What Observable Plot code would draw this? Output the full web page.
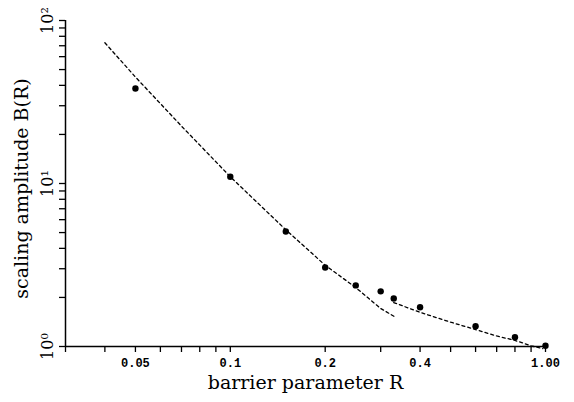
<!DOCTYPE html>
<html>
<head>
<meta charset="utf-8">
<script src="https://cdn.jsdelivr.net/npm/d3@7"></script>
<script src="https://cdn.jsdelivr.net/npm/@observablehq/plot@0.6"></script>
<style>
  html, body { margin: 0; padding: 0; background: #fff; }
  #chart { width: 574px; height: 402px; }
</style>
</head>
<body>
<div id="chart"></div>
<script>
// measured points
const pointR = [0.05, 0.1, 0.15, 0.2, 0.25, 0.3, 0.33, 0.4, 0.6, 0.8, 1.0];
const pointB = [38.3, 11.0, 5.08, 3.05, 2.37, 2.18, 1.97, 1.74, 1.33, 1.14, 1.01];

// small-R asymptotic (dashed) curve
const curve1R = [0.04, 0.05, 0.07, 0.1, 0.15, 0.2, 0.25, 0.3, 0.335];
const curve1B = [73, 45, 22.5, 11.0, 5.2, 3.15, 2.3, 1.71, 1.51];

// large-R asymptotic (dashed) curve
const curve2R = [0.33, 0.4, 0.5, 0.6, 0.7, 0.8, 0.9, 0.98];
const curve2B = [1.86, 1.62, 1.41, 1.27, 1.16, 1.09, 1.01, 0.97];

const xLabelTicks = [0.05, 0.1, 0.2, 0.4, 1.0];
const xLabelText = ["0.05", "0.1", "0.2", "0.4", "1.00"];
const xMinorTicks = [0.03,0.04,0.05,0.06,0.07,0.08,0.09,0.1,0.2,0.3,0.4,0.5,0.6,0.7,0.8,0.9,1.0];
const yLabelTicks = [1, 10, 100];
const yLabelText = ["10\u2070", "10\u00b9", "10\u00b2"];
const yMinorTicks = [1,2,3,4,5,6,7,8,9,10,20,30,40,50,60,70,80,90,100];

const points = pointR.map((r, i) => ({r, b: pointB[i]}));
const c1 = curve1R.map((r, i) => ({r, b: curve1B[i]}));
const c2 = curve2R.map((r, i) => ({r, b: curve2B[i]}));

const serif = "'DejaVu Serif', 'Liberation Serif', serif";
const mono = "'Liberation Mono', 'DejaVu Sans Mono', monospace";

const chart = Plot.plot({
  width: 574,
  height: 402,
  marginLeft: 65,
  marginRight: 29,
  marginTop: 20,
  marginBottom: 56,
  style: {background: "#fff", color: "#000", overflow: "visible"},
  x: {type: "log", domain: [0.03, 1.0]},
  y: {type: "log", domain: [1, 100]},
  marks: [
    Plot.axisX({ticks: xMinorTicks, tickFormat: () => "", tickSize: 6, strokeWidth: 1.3, label: null}),
    Plot.axisX({ticks: xLabelTicks, tickFormat: d => xLabelText[xLabelTicks.indexOf(d)], tickSize: 0, tickPadding: 12,
      fontFamily: mono, fontSize: 12, fontWeight: "bold", label: null}),
    Plot.axisY({ticks: yMinorTicks, tickFormat: () => "", tickSize: 6, strokeWidth: 1.3, label: null}),
    Plot.axisY({ticks: yLabelTicks, tickFormat: d => yLabelText[yLabelTicks.indexOf(d)], tickSize: 0, tickPadding: 13,
      tickRotate: -90, fontFamily: serif, fontSize: 16, label: null}),
    Plot.ruleX([0.03], {stroke: "#000", strokeWidth: 1.5}),
    Plot.ruleY([1], {stroke: "#000", strokeWidth: 1.5}),
    Plot.line(c1, {x: "r", y: "b", stroke: "#000", strokeWidth: 1.3, strokeDasharray: "3,3"}),
    Plot.line(c2, {x: "r", y: "b", stroke: "#000", strokeWidth: 1.3, strokeDasharray: "3,3"}),
    Plot.dot(points, {x: "r", y: "b", r: 3.2, fill: "#000", stroke: "none"}),
    Plot.text(["barrier parameter R"], {frameAnchor: "bottom", dy: 42, fontFamily: serif, fontSize: 19, fill: "#000"}),
    Plot.text(["scaling amplitude B(R)"], {frameAnchor: "left", dx: -44, dy: 5, rotate: -90, textAnchor: "middle",
      fontFamily: serif, fontSize: 19, fill: "#000"})
  ]
});
document.getElementById("chart").appendChild(chart);
</script>
</body>
</html>
